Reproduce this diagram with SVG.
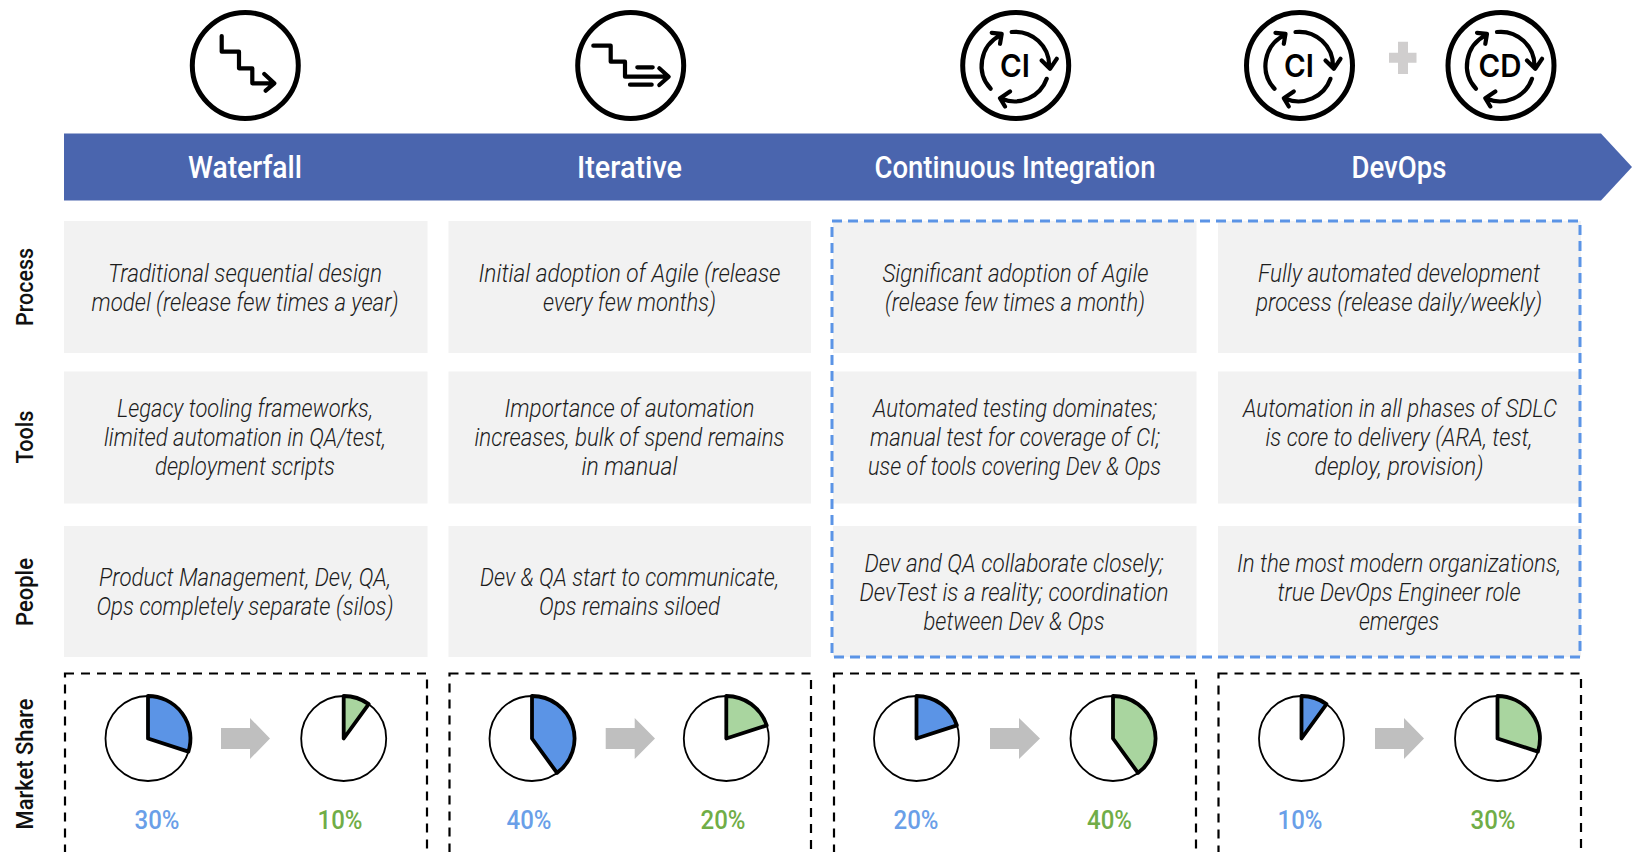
<svg xmlns="http://www.w3.org/2000/svg" xmlns:xlink="http://www.w3.org/1999/xlink" width="1632" height="852" viewBox="0 0 1632 852">
<style>
text{font-family:"Roboto","Noto Sans","Liberation Sans",sans-serif;text-anchor:middle}
.cell{fill:#f2f2f2}
.d{font-size:26px;font-style:italic;font-weight:300;fill:#1c1c1c}
.h{font-size:31px;font-weight:500;fill:#fff}
.side{font-size:24px;font-weight:500;fill:#111}
.ic{fill:none;stroke:#000;stroke-width:4.2;stroke-linecap:round;stroke-linejoin:round}
.ring{fill:#fff;stroke:#000;stroke-width:5}
.icl{font-size:31px;font-weight:600;fill:#000;font-family:"Inter","Noto Sans",sans-serif}
.frame{fill:none;stroke:#000;stroke-width:2.2;stroke-dasharray:9 7}
.pie{fill:#fff;stroke:#000;stroke-width:1.8}
.sb{fill:#5b94e6;stroke:#000;stroke-width:3.8;stroke-linejoin:round}
.sg{fill:#a9d59f;stroke:#000;stroke-width:3.8;stroke-linejoin:round}
.pb{font-size:26px;font-weight:500;fill:#6a9fe8}
.pg{font-size:26px;font-weight:500;fill:#70ad47}
.arr{fill:#bfbfbf}
</style>
<defs>
<g id="cycle" class="ic">
<path d="M-4 -33.5A34 34 0 0 1 33.5 1M26 -5L34.3 3.3L41 -6.7"/>
<path d="M31 13.3A34 34 0 0 1 -14 33.3M-5.7 26L-15.7 32.7L-10.7 41"/>
<path d="M-25 23.3A34 34 0 0 1 -15.7 -30M-24 -32.7L-14 -31.7L-15.7 -21.7"/>
</g>
</defs>
<rect width="1632" height="852" fill="#fff"/>

<g id="banner">
<path d="M64 133.5H1601L1632 167L1601 200.5H64Z" fill="#4a65ae"/>
<text class="h" x="245" y="178" textLength="114" lengthAdjust="spacingAndGlyphs">Waterfall</text>
<text class="h" x="629.5" y="178" textLength="105" lengthAdjust="spacingAndGlyphs">Iterative</text>
<text class="h" x="1015" y="178" textLength="281" lengthAdjust="spacingAndGlyphs">Continuous Integration</text>
<text class="h" x="1399" y="178" textLength="95" lengthAdjust="spacingAndGlyphs">DevOps</text>
</g>

<g id="icon-waterfall">
<circle class="ring" cx="245.3" cy="65.5" r="53"/>
<path class="ic" d="M221.7 36V51.7H239V68.3H252.3V83.3H273M264.3 74L274.3 83.3L265.7 90.7"/>
</g>
<g id="icon-iterative">
<circle class="ring" cx="630.7" cy="65.5" r="53"/>
<path class="ic" d="M593.3 45.7H610.7V61.7H625V76.7H667M659.3 68.3L668.7 76.7L659.3 85M637.3 67.3H652.7M630 84.7H651.7"/>
</g>
<g id="icon-ci">
<circle class="ring" cx="1015.7" cy="65.5" r="53"/>
<use xlink:href="#cycle" href="#cycle" transform="translate(1015.7 65.5)"/>
<text class="icl" x="1015" y="77" textLength="30" lengthAdjust="spacingAndGlyphs">CI</text>
</g>
<g id="icon-devops-ci">
<circle class="ring" cx="1299.5" cy="65.5" r="53"/>
<use xlink:href="#cycle" href="#cycle" transform="translate(1299.5 65.5)"/>
<text class="icl" x="1299" y="77" textLength="30" lengthAdjust="spacingAndGlyphs">CI</text>
</g>
<g id="icon-plus">
<path d="M1398 41.7H1408V52.7H1416.5V62.7H1408V74H1398V62.7H1389V52.7H1398Z" fill="#d0cece"/>
</g>
<g id="icon-devops-cd">
<circle class="ring" cx="1501" cy="65.5" r="53"/>
<use xlink:href="#cycle" href="#cycle" transform="translate(1501 65.5)"/>
<text class="icl" x="1500" y="77" textLength="43" lengthAdjust="spacingAndGlyphs">CD</text>
</g>

<g id="label-process"><text class="side" transform="translate(32.5 287) rotate(-90)" textLength="78" lengthAdjust="spacingAndGlyphs">Process</text></g>
<g id="label-tools"><text class="side" transform="translate(32.5 437) rotate(-90)" textLength="53" lengthAdjust="spacingAndGlyphs">Tools</text></g>
<g id="label-people"><text class="side" transform="translate(32.5 592) rotate(-90)" textLength="68" lengthAdjust="spacingAndGlyphs">People</text></g>
<g id="label-market"><text class="side" transform="translate(32.5 764) rotate(-90)" textLength="131" lengthAdjust="spacingAndGlyphs">Market Share</text></g>

<g id="process-waterfall"><rect class="cell" x="64" y="221" width="363.5" height="132"/>
<text class="d" x="245" y="281.5" textLength="274" lengthAdjust="spacingAndGlyphs">Traditional sequential design</text>
<text class="d" x="245" y="310.5" textLength="307" lengthAdjust="spacingAndGlyphs">model (release few times a year)</text></g>
<g id="process-iterative"><rect class="cell" x="448.5" y="221" width="362.5" height="132"/>
<text class="d" x="629.5" y="281.5" textLength="302" lengthAdjust="spacingAndGlyphs">Initial adoption of Agile (release</text>
<text class="d" x="629.5" y="310.5" textLength="173" lengthAdjust="spacingAndGlyphs">every few months)</text></g>
<g id="process-ci"><rect class="cell" x="833" y="221" width="363.5" height="132"/>
<text class="d" x="1015.5" y="281.5" textLength="266" lengthAdjust="spacingAndGlyphs">Significant adoption of Agile</text>
<text class="d" x="1015" y="310.5" textLength="260" lengthAdjust="spacingAndGlyphs">(release few times a month)</text></g>
<g id="process-devops"><rect class="cell" x="1218" y="221" width="363" height="132"/>
<text class="d" x="1399" y="281.5" textLength="282" lengthAdjust="spacingAndGlyphs">Fully automated development</text>
<text class="d" x="1399" y="310.5" textLength="286" lengthAdjust="spacingAndGlyphs">process (release daily/weekly)</text></g>

<g id="tools-waterfall"><rect class="cell" x="64" y="371.5" width="363.5" height="132"/>
<text class="d" x="245" y="416.5" textLength="256" lengthAdjust="spacingAndGlyphs">Legacy tooling frameworks,</text>
<text class="d" x="245" y="445.5" textLength="282" lengthAdjust="spacingAndGlyphs">limited automation in QA/test,</text>
<text class="d" x="245" y="474.5" textLength="180" lengthAdjust="spacingAndGlyphs">deployment scripts</text></g>
<g id="tools-iterative"><rect class="cell" x="448.5" y="371.5" width="362.5" height="132"/>
<text class="d" x="629.5" y="416.5" textLength="250" lengthAdjust="spacingAndGlyphs">Importance of automation</text>
<text class="d" x="629.5" y="445.5" textLength="310" lengthAdjust="spacingAndGlyphs">increases, bulk of spend remains</text>
<text class="d" x="629.5" y="474.5" textLength="96" lengthAdjust="spacingAndGlyphs">in manual</text></g>
<g id="tools-ci"><rect class="cell" x="833" y="371.5" width="363.5" height="132"/>
<text class="d" x="1015" y="416.5" textLength="284" lengthAdjust="spacingAndGlyphs">Automated testing dominates;</text>
<text class="d" x="1015" y="445.5" textLength="290" lengthAdjust="spacingAndGlyphs">manual test for coverage of CI;</text>
<text class="d" x="1014.5" y="474.5" textLength="293" lengthAdjust="spacingAndGlyphs">use of tools covering Dev &amp; Ops</text></g>
<g id="tools-devops"><rect class="cell" x="1218" y="371.5" width="363" height="132"/>
<text class="d" x="1400" y="416.5" textLength="314" lengthAdjust="spacingAndGlyphs">Automation in all phases of SDLC</text>
<text class="d" x="1399" y="445.5" textLength="267" lengthAdjust="spacingAndGlyphs">is core to delivery (ARA, test,</text>
<text class="d" x="1399" y="474.5" textLength="169" lengthAdjust="spacingAndGlyphs">deploy, provision)</text></g>

<g id="people-waterfall"><rect class="cell" x="64" y="526" width="363.5" height="131"/>
<text class="d" x="245" y="585.5" textLength="292" lengthAdjust="spacingAndGlyphs">Product Management, Dev, QA,</text>
<text class="d" x="245" y="614.5" textLength="297" lengthAdjust="spacingAndGlyphs">Ops completely separate (silos)</text></g>
<g id="people-iterative"><rect class="cell" x="448.5" y="526" width="362.5" height="131"/>
<text class="d" x="629.5" y="585.5" textLength="299" lengthAdjust="spacingAndGlyphs">Dev &amp; QA start to communicate,</text>
<text class="d" x="629.5" y="614.5" textLength="181" lengthAdjust="spacingAndGlyphs">Ops remains siloed</text></g>
<g id="people-ci"><rect class="cell" x="833" y="526" width="363.5" height="131"/>
<text class="d" x="1014" y="572" textLength="299" lengthAdjust="spacingAndGlyphs">Dev and QA collaborate closely;</text>
<text class="d" x="1014" y="601" textLength="309" lengthAdjust="spacingAndGlyphs">DevTest is a reality; coordination</text>
<text class="d" x="1014" y="630" textLength="181" lengthAdjust="spacingAndGlyphs">between Dev &amp; Ops</text></g>
<g id="people-devops"><rect class="cell" x="1218" y="526" width="363" height="131"/>
<text class="d" x="1399" y="572" textLength="324" lengthAdjust="spacingAndGlyphs">In the most modern organizations,</text>
<text class="d" x="1399" y="601" textLength="243" lengthAdjust="spacingAndGlyphs">true DevOps Engineer role</text>
<text class="d" x="1399" y="630" textLength="80" lengthAdjust="spacingAndGlyphs">emerges</text></g>

<g id="highlight"><rect x="832" y="221" width="748" height="436" fill="none" stroke="#5b94e6" stroke-width="3" stroke-dasharray="10 6"/></g>

<g id="market-waterfall">
<rect class="frame" x="65" y="673.5" width="362" height="200"/>
<circle class="pie" cx="148" cy="738.5" r="42.5"/>
<path class="sb" d="M148 738.5V696A42.5 42.5 0 0 1 188.4 751.6Z"/>
<circle class="pie" cx="343.7" cy="738.5" r="42.5"/>
<path class="sg" d="M343.7 738.5V696A42.5 42.5 0 0 1 368.7 704.1Z"/>
<text class="pb" x="157" y="829" textLength="45" lengthAdjust="spacingAndGlyphs">30%</text>
<text class="pg" x="340" y="829" textLength="45" lengthAdjust="spacingAndGlyphs">10%</text>
</g>
<g id="market-iterative">
<rect class="frame" x="449.5" y="673.5" width="361.5" height="200"/>
<circle class="pie" cx="532" cy="738.5" r="42.5"/>
<path class="sb" d="M532 738.5V696A42.5 42.5 0 0 1 557 772.9Z"/>
<circle class="pie" cx="726.3" cy="738.5" r="42.5"/>
<path class="sg" d="M726.3 738.5V696A42.5 42.5 0 0 1 766.7 725.4Z"/>
<text class="pb" x="529" y="829" textLength="45" lengthAdjust="spacingAndGlyphs">40%</text>
<text class="pg" x="723" y="829" textLength="45" lengthAdjust="spacingAndGlyphs">20%</text>
</g>
<g id="market-ci">
<rect class="frame" x="834" y="673.5" width="362" height="200"/>
<circle class="pie" cx="916.5" cy="738.5" r="42.5"/>
<path class="sb" d="M916.5 738.5V696A42.5 42.5 0 0 1 956.9 725.4Z"/>
<circle class="pie" cx="1113" cy="738.5" r="42.5"/>
<path class="sg" d="M1113 738.5V696A42.5 42.5 0 0 1 1138 772.9Z"/>
<text class="pb" x="916" y="829" textLength="45" lengthAdjust="spacingAndGlyphs">20%</text>
<text class="pg" x="1109.5" y="829" textLength="45" lengthAdjust="spacingAndGlyphs">40%</text>
</g>
<g id="market-devops">
<rect class="frame" x="1218.5" y="673.5" width="362.5" height="200"/>
<circle class="pie" cx="1301.5" cy="738.5" r="42.5"/>
<path class="sb" d="M1301.5 738.5V696A42.5 42.5 0 0 1 1326.5 704.1Z"/>
<circle class="pie" cx="1497.5" cy="738.5" r="42.5"/>
<path class="sg" d="M1497.5 738.5V696A42.5 42.5 0 0 1 1537.9 751.6Z"/>
<text class="pb" x="1300" y="829" textLength="45" lengthAdjust="spacingAndGlyphs">10%</text>
<text class="pg" x="1493" y="829" textLength="45" lengthAdjust="spacingAndGlyphs">30%</text>
</g>

<g id="connectors">
<path class="arr" d="M221 728H250V718L270 738.5L250 759V749H221Z"/>
<path class="arr" d="M605.7 728H634.7V718L655 738.5L634.7 759V749H605.7Z"/>
<path class="arr" d="M990 728H1019V718L1040 738.5L1019 759V749H990Z"/>
<path class="arr" d="M1375 728H1404V718L1424 738.5L1404 759V749H1375Z"/>
</g>
</svg>
